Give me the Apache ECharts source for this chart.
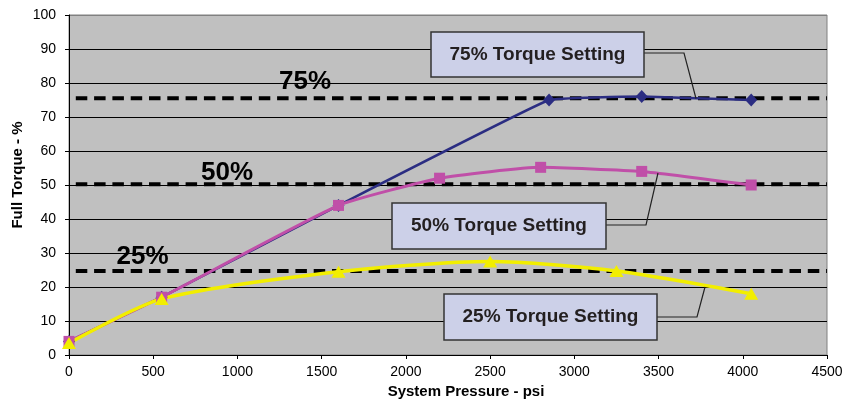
<!DOCTYPE html>
<html>
<head>
<meta charset="utf-8">
<script src="https://cdn.jsdelivr.net/npm/echarts@6/dist/echarts.min.js"></script>
<style>
  html, body { margin: 0; padding: 0; background: #fff; }
  #chart { width: 847px; height: 403px; }
</style>
</head>
<body>
<div id="chart"></div>
<script>
// Torque output vs. system pressure for three torque settings
const pressure75 = [0, 550, 1600, 2850, 3400, 4050];
const torque75   = [4, 17, 44, 75, 76, 75];

const pressure50 = [0, 550, 1600, 2200, 2800, 3400, 4050];
const torque50   = [4, 17, 44, 52, 55.2, 54, 50];

const pressure25 = [0, 550, 1600, 2500, 3250, 4050];
const torque25   = [3.5, 16.5, 24.5, 27.5, 24.7, 18];

// Nominal setting levels (dashed reference lines)
const settingLevels = [75.5, 50.2, 24.7];
const settingNames  = ['75%', '50%', '25%'];

const xTicks = { min: 0, max: 4500, interval: 500 };
const yTicks = { min: 0, max: 100, interval: 10 };

const FONT = "'Liberation Sans', Arial, sans-serif";
const pair = (xs, ys) => xs.map((x, i) => [x, ys[i]]);

const chart = echarts.init(document.getElementById('chart'), null, { renderer: 'canvas' });

const gridLineColors = [];
for (let v = yTicks.min; v <= yTicks.max; v += yTicks.interval) {
  gridLineColors.push(v === yTicks.max ? '#808080' : '#000000');
}

const dashedSeries = settingLevels.map(level => ({
  type: 'line',
  data: [[xTicks.min, level], [xTicks.max, level]],
  symbol: 'none',
  silent: true,
  z: 3,
  lineStyle: { color: '#000', width: 4, type: [11.5, 6.8], dashOffset: 11.5 }
}));

function curve(data, color, width, z, smooth) {
  return {
    type: 'line', data, smooth, symbol: 'none', silent: true, z,
    lineStyle: { color, width }
  };
}
function markers(data, color, symbol, size, z) {
  return {
    type: 'scatter', data, symbol, symbolSize: size, silent: true, z,
    itemStyle: { color, opacity: 1 }
  };
}

const d75 = pair(pressure75, torque75);
const d50 = pair(pressure50, torque50);
const d25 = pair(pressure25, torque25);

function callout(x, y, w, h, label, leader) {
  return [
    {
      type: 'polyline', z: 20,
      shape: { points: leader },
      style: { stroke: '#222', lineWidth: 1.2, fill: null }
    },
    {
      type: 'rect', z: 21,
      shape: { x, y, width: w, height: h },
      style: { fill: '#ccd0e8', stroke: '#333', lineWidth: 1.5 }
    },
    {
      type: 'text', z: 22,
      x: x + w / 2, y: y + h / 2,
      style: {
        text: label, fill: '#231f20', font: 'bold 19px ' + FONT,
        align: 'center', verticalAlign: 'middle'
      }
    }
  ];
}

function levelLabel(text, cx, cy) {
  return {
    type: 'text', z: 15, x: cx, y: cy,
    style: { text, fill: '#000', font: 'bold 26px ' + FONT, align: 'center', verticalAlign: 'middle' }
  };
}

chart.setOption({
  animation: false,
  backgroundColor: '#ffffff',
  textStyle: { fontFamily: FONT },
  grid: {
    left: 69, right: 20, top: 15, bottom: 48,
    show: true, backgroundColor: '#c0c0c0', borderColor: '#808080', borderWidth: 1
  },
  xAxis: {
    type: 'value',
    min: xTicks.min, max: xTicks.max, interval: xTicks.interval,
    axisLine: { show: true, onZero: false, lineStyle: { color: '#000', width: 1 } },
    axisTick: { show: true, length: 4, lineStyle: { color: '#000' } },
    axisLabel: { color: '#000', fontSize: 14, margin: 10, fontFamily: FONT, formatter: v => String(v) },
    splitLine: { show: false }
  },
  yAxis: {
    type: 'value',
    min: yTicks.min, max: yTicks.max, interval: yTicks.interval,
    axisLine: { show: true, lineStyle: { color: '#000', width: 1 } },
    axisTick: { show: true, length: 4, lineStyle: { color: '#000' } },
    axisLabel: { color: '#000', fontSize: 14, margin: 13, fontFamily: FONT },
    splitLine: { show: true, lineStyle: { color: gridLineColors, width: 1 } }
  },
  series: [
    ...dashedSeries,
    curve(d75, '#2b2d82', 2.5, 4, 0.08),
    curve(d50, '#c04fa8', 3, 5, 0.15),
    curve(d25, '#f2ee00', 3.5, 6, 0.25),
    markers(d75, '#2b2d82', 'diamond', [12, 13], 7),
    markers(d50, '#c04fa8', 'rect', [11, 11], 8),
    markers(d25, '#f2ee00', 'triangle', [14, 12], 9)
  ],
  graphic: [
    levelLabel(settingNames[0], 305, 82),
    levelLabel(settingNames[1], 227, 172.5),
    levelLabel(settingNames[2], 142.5, 257),
    ...callout(431, 32, 213, 45, '75% Torque Setting', [[644, 53], [684, 53], [696, 98.5]]),
    ...callout(392, 203, 214, 46, '50% Torque Setting', [[606, 225], [646, 225], [658, 173]]),
    ...callout(444, 294, 213, 46, '25% Torque Setting', [[657, 317], [697, 317], [705, 287]]),
    {
      type: 'text', x: 466, y: 392,
      style: { text: 'System Pressure - psi', fill: '#000', font: 'bold 15px ' + FONT, align: 'center', verticalAlign: 'middle' }
    },
    {
      type: 'text', x: 18, y: 175, rotation: Math.PI / 2,
      style: { text: 'Full Torque - %', fill: '#000', font: 'bold 15px ' + FONT, align: 'center', verticalAlign: 'middle' }
    }
  ]
});
</script>
</body>
</html>
